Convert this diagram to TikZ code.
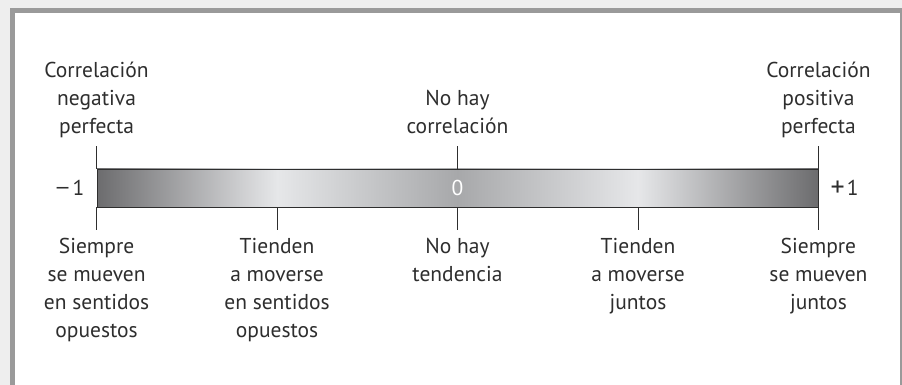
\documentclass[tikz,border=0pt]{standalone}
\usepackage{fontspec}
\setmainfont{PT Sans}
\usepackage{tikz}
\usetikzlibrary{positioning,calc}

\definecolor{pagegray}{HTML}{EEEEEE}
\definecolor{framegray}{HTML}{9A9A9A}
\definecolor{textgray}{HTML}{2E2E2E}
\definecolor{barend}{HTML}{6C6C6E}
\definecolor{barlight}{HTML}{E6E7E9}
\definecolor{barmid}{HTML}{A7A8AA}
\pgfdeclarehorizontalshading{corrshade}{100bp}{color(0bp)=(barend); color(25bp)=(barend);
  color(37.5bp)=(barlight); color(50bp)=(barmid); color(62.5bp)=(barlight);
  color(75bp)=(barend); color(100bp)=(barend)}

\begin{document}
\begin{tikzpicture}[x=1pt, y=1pt,
	every node/.style={font=\fontsize{21.5}{28}\selectfont, text=textgray, align=center, inner sep=0pt},
	tick/.style={draw=textgray, line width=0.9pt},
	toplabel/.style={text depth=0pt}]
	% frame
	\useasboundingbox (0,0) rectangle (902,385);
	\fill[pagegray] (0,0) rectangle (902,385);
	\fill[framegray] (10,0) rectangle (901.5,377);
	\fill[white] (15,0) rectangle (900,371.5);
	% scale bar
	\node[draw=textgray, line width=0.9pt, shading=corrshade, minimum width=721, minimum height=38, text=white] (bar) at (457.5,197) {0};
	\node[left=12pt of bar.west] (minus) {\scalebox{1.3}[1]{−}\kern3pt 1};
	\node[right=12pt of bar.east] (plus) {\raisebox{-1pt}{\scalebox{1.3}{+}}\kern2pt 1};
	% ticks below the bar
	\foreach \f/\n in {0/a,0.25/b,0.5/c,0.75/d,1/e} {
		\coordinate (b-\n) at ($(bar.south west)!\f!(bar.south east)$);
		\coordinate (bb-\n) at ([yshift=-23] b-\n);
		\draw[tick] (b-\n) -- (bb-\n);
	}
	% ticks above the bar
	\foreach \f/\n in {0/a,0.5/c,1/e} {
		\coordinate (t-\n) at ($(bar.north west)!\f!(bar.north east)$);
		\coordinate (tt-\n) at ([yshift=23] t-\n);
		\draw[tick] (t-\n) -- (tt-\n);
	}
	% labels
	\node[toplabel, above=12pt of tt-a] (negperf) {Correlación\\negativa\\perfecta};
	\node[toplabel, above=12pt of tt-c] (nocorr) {No hay\\correlación};
	\node[toplabel, above=12pt of tt-e] (posperf) {Correlación\\positiva\\perfecta};
	\node[below=8pt of bb-a] (alwopp) {Siempre\\se mueven\\en sentidos\\opuestos};
	\node[below=8pt of bb-b] (tendopp) {Tienden\\a moverse\\en sentidos\\opuestos};
	\node[below=8pt of bb-c] (notend) {No hay\\tendencia};
	\node[below=8pt of bb-d] (tendtog) {Tienden\\a moverse\\juntos};
	\node[below=8pt of bb-e] (alwtog) {Siempre\\se mueven\\juntos};
\end{tikzpicture}
\end{document}
